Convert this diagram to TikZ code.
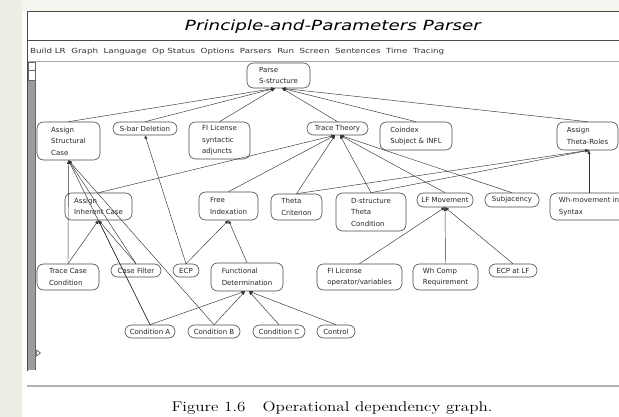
\documentclass[tikz,border=0pt]{standalone}
\usepackage{fontspec}
\usepackage{graphicx}
\newfontfamily\gfont{DejaVu Sans}
\newfontfamily\tfont{DejaVu Sans}
\usetikzlibrary{arrows.meta}
\definecolor{beige}{HTML}{EEEEE6}
\definecolor{topbeige}{HTML}{F6F6F1}
\definecolor{scrollgray}{HTML}{9C9C9C}
\begin{document}
\begin{tikzpicture}[x=1pt,y=-1pt,
  gnode/.style={draw=black!70, line width=0.6pt, rounded corners=6.5pt, text=black!85,
    font=\gfont\fontsize{7}{11.5}\selectfont, align=left, inner xsep=0pt, inner ysep=0pt},
  one/.style={gnode, align=center},
  dep/.style={line width=0.45pt, draw=black!80, -{Triangle[length=3.6pt,width=3pt]}},
  frame/.style={draw=black!70, line width=1pt}]
\useasboundingbox (0,0) rectangle (619,417);
\clip (0,0) rectangle (619,417);
% background
\fill[white] (0,0) rectangle (619,417);
\fill[topbeige] (0,0) rectangle (619,11);
\fill[beige] (0,0) rectangle (22,417);
% window frame
\draw[frame] (27,12) -- (625,12);
\draw[frame] (27,41) -- (625,41);
\draw[draw=black!35, line width=1pt] (27,62) -- (625,62);
\draw[frame] (27,12) -- (27,371);
\node[font=\tfont\itshape\fontsize{14}{14}\selectfont, inner sep=0pt] (title) at (333,26.5)
  {\resizebox{296pt}{\height}{Principle-and-Parameters Parser}};
\node[font=\gfont\fontsize{7}{7}\selectfont, text=black!80, inner sep=0pt, anchor=west] (menu) at (30,51.5)
  {\resizebox{414pt}{\height}{Build LR\ \ Graph\ \ Language\ \ Op Status\ \ Options\ \ Parsers\ \ Run\ \ Screen\ \ Sentences\ \ Time\ \ Tracing}};
% scrollbar
\fill[scrollgray] (28,80) rectangle (35,370);
\draw[black!60, line width=0.6pt] (28,62.5) rectangle (35,70);
\draw[black!60, line width=0.6pt] (28,70) rectangle (35,80);
\draw[black!60, line width=0.6pt] (35,62) -- (35,370);
\draw[black!80, line width=0.5pt] (36.5,350) -- (40.5,353) -- (36.5,356) -- cycle;
% rule and caption
\draw[black!30, line width=1.5pt] (27,386) -- (625,386);
\node[font=\fontsize{14}{14}\selectfont, inner sep=0pt] (caption) at (332,408)
  {\resizebox{321pt}{\height}{Figure 1.6\quad Operational dependency graph.}};
% nodes
\node[gnode, minimum width=63pt, minimum height=25pt] (parse) at (278.5,75.5) {Parse\\S-structure};
\node[gnode, minimum width=63pt, minimum height=38pt] (asc) at (68.5,141) {Assign\\Structural\\Case};
\node[one, minimum width=64pt, minimum height=13pt] (sbar) at (145,128.5) {S-bar Deletion};
\node[gnode, minimum width=61pt, minimum height=37pt] (fils) at (219.5,140.5) {FI License\\syntactic\\adjuncts};
\node[one, minimum width=61pt, minimum height=13pt] (tt) at (337.5,128.5) {Trace Theory};
\node[gnode, minimum width=72pt, minimum height=28pt] (coin) at (416,136) {Coindex\\Subject \& INFL};
\node[gnode, minimum width=61pt, minimum height=28pt] (atr) at (587.5,136) {Assign\\Theta-Roles};
\node[gnode, minimum width=67pt, minimum height=27pt] (aic) at (98.5,206.5) {Assign\\Inherent Case};
\node[gnode, minimum width=59pt, minimum height=28pt] (fi) at (228.5,206) {Free\\Indexation};
\node[gnode, minimum width=51pt, minimum height=26pt] (tc) at (296.5,207) {Theta\\Criterion};
\node[gnode, minimum width=70pt, minimum height=38pt] (dtc) at (371,212) {D-structure\\Theta\\Condition};
\node[one, minimum width=56pt, minimum height=14pt] (lfm) at (445,200) {LF Movement};
\node[one, minimum width=54pt, minimum height=14pt] (subj) at (512,200) {Subjacency};
\node[gnode, minimum width=78pt, minimum height=27pt] (whs) at (589,206.5) {Wh-movement in\\Syntax};
\node[gnode, minimum width=62pt, minimum height=26pt] (tcc) at (68,277) {Trace Case\\Condition};
\node[one, minimum width=50pt, minimum height=13pt] (cf) at (136,270.5) {Case Filter};
\node[one, minimum width=26pt, minimum height=13pt] (ecp) at (186,270.5) {ECP};
\node[gnode, minimum width=72pt, minimum height=28pt] (fd) at (247,277) {Functional\\Determination};
\node[gnode, minimum width=85pt, minimum height=26pt] (filo) at (359.5,277) {FI License\\operator/variables};
\node[gnode, minimum width=65pt, minimum height=26pt] (whc) at (445.5,277) {Wh Comp\\Requirement};
\node[one, minimum width=48pt, minimum height=13pt] (ecplf) at (513,270.5) {ECP at LF};
\node[one, minimum width=50pt, minimum height=13pt] (ca) at (150,331.5) {Condition A};
\node[one, minimum width=52pt, minimum height=13pt] (cb) at (214,331.5) {Condition B};
\node[one, minimum width=52pt, minimum height=13pt] (cc) at (279,331.5) {Condition C};
\node[one, minimum width=38pt, minimum height=13pt] (ctl) at (336,331.5) {Control};
% connectors
\draw[dep] (asc.north) -- ([xshift=-3.5pt]parse.south);
\draw[dep] (sbar.north) -- ([xshift=-3.5pt]parse.south);
\draw[dep] (fils.north) -- ([xshift=-3.5pt]parse.south);
\draw[dep] (tt.north) -- ([xshift=3.5pt]parse.south);
\draw[dep] (coin.north) -- ([xshift=3.5pt]parse.south);
\draw[dep] (atr.north) -- ([xshift=3.5pt]parse.south);
\draw[dep] (aic.north) -- ([xshift=-2.5pt]tt.south);
\draw[dep] (fi.north) -- ([xshift=-2.5pt]tt.south);
\draw[dep] (tc.north) -- ([xshift=-2.5pt]tt.south);
\draw[dep] (dtc.north) -- ([xshift=2.5pt]tt.south);
\draw[dep] (lfm.north) -- ([xshift=2.5pt]tt.south);
\draw[dep] (subj.north) -- ([xshift=2.5pt]tt.south);
\draw[dep] (tc.north) -- ([xshift=1.5pt]atr.south);
\draw[dep] (dtc.north) -- ([xshift=1.5pt]atr.south);
\draw[dep] (whs.north) -- ([xshift=1.5pt]atr.south);
\draw[dep] (tcc.north) -- (asc.south);
\draw[dep] (cf.north) -- (asc.south);
\draw[dep] (ca.north) -- (asc.south);
\draw[dep] (cb.north) -- (asc.south);
\draw[dep] (tcc.north) -- (aic.south);
\draw[dep] (cf.north) -- (aic.south);
\draw[dep] (ca.north) -- (aic.south);
\draw[dep] (ecp.north) -- (sbar.south);
\draw[dep] (ecp.north) -- (fi.south);
\draw[dep] (fd.north) -- (fi.south);
\draw[dep] (ca.north) -- ([xshift=-2pt]fd.south);
\draw[dep] (cb.north) -- ([xshift=-2pt]fd.south);
\draw[dep] (cc.north) -- ([xshift=2pt]fd.south);
\draw[dep] (ctl.north) -- ([xshift=2pt]fd.south);
\draw[dep] (filo.north) -- (lfm.south);
\draw[dep] (whc.north) -- (lfm.south);
\draw[dep] (ecplf.north) -- (lfm.south);
\end{tikzpicture}
\end{document}
